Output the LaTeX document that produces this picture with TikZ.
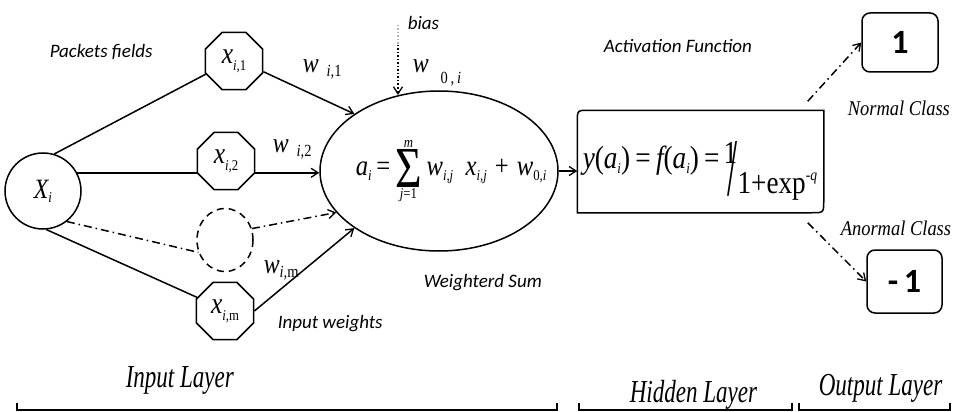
\documentclass[tikz,border=0pt]{standalone}
\usepackage{fontspec}
\setmainfont{Liberation Serif}
\newfontfamily\labf{Carlito}
\newfontfamily\layf[FakeStretch=0.72]{Liberation Serif}
\newfontfamily\clsf[FakeStretch=0.88]{Liberation Serif}
\newfontfamily\eqf[FakeStretch=0.85]{Liberation Serif}
\usetikzlibrary{shapes.geometric,arrows.meta}
\newcommand\fsz[1]{\fontsize{#1}{#1}\selectfont}
\newcommand\sbs[2][5pt]{\raisebox{-#1}{\fsz{15}#2}}
\begin{document}
\begin{tikzpicture}[x=1pt,y=-1pt,line width=1.5pt,
  >={Straight Barb[length=7pt,width=9pt,line width=1.3pt]},
  oct/.style={regular polygon,regular polygon sides=8,draw,minimum size=62pt,inner sep=0pt},
  lbl/.style={anchor=base west,inner sep=0pt,font=\labf\itshape\fsz{19}},
  lay/.style={anchor=base west,inner sep=0pt,font=\layf\itshape\fsz{32}},
  cls/.style={anchor=base west,inner sep=0pt,font=\clsf\itshape\fsz{21}},
  wl/.style={anchor=base west,inner sep=0pt,font=\eqf\itshape\fsz{28}},
  outbox/.style={draw,rounded corners=8pt,inner sep=0pt,font=\labf\bfseries\fsz{34}},
  dashdot/.style={dash pattern=on 8pt off 4pt on 1.5pt off 4pt},
  brk/.style={line width=1.1pt}]
\useasboundingbox (0,0) rectangle (956,412);

% input layer nodes
\node[circle,draw,minimum size=76pt,inner sep=0pt] (Xi) at (43,191) {\eqf\itshape\fsz{28}X\sbs[4pt]{i}};
\node[oct] (x1) at (234,61) {\eqf\itshape\fsz{30}x\sbs[7pt]{i,\upshape 1}};
\node[oct] (x2) at (226,161) {\eqf\itshape\fsz{30}x\sbs[7pt]{i,\upshape 2}};
\node[ellipse,draw,dash pattern=on 7pt off 5pt,minimum width=56pt,minimum height=63pt,inner sep=0pt] (xd) at (225,240) {};
\node[oct] (xm) at (225,311) {\eqf\itshape\fsz{30}x\sbs[7pt]{i,\upshape m}};

% weighted sum
\node[ellipse,draw,minimum width=238pt,minimum height=160pt,inner sep=0pt] (E) at (439,171) {};
\node[anchor=base west,inner sep=0pt] (eqa) at (355,175) {\eqf\fsz{29}\itshape a\sbs{i}\,\upshape=\,$\mathop{\hbox{\raisebox{-12pt}{\scalebox{1.85}[2.0]{\upshape Σ}}}}\limits_{\hbox{\fsz{15}\itshape j\upshape=1}}^{\hbox{\fsz{15}\itshape m}}$\,\itshape w\sbs{i,j}\ \ x\sbs{i,j}\;\upshape+\;\itshape w\sbs{\upshape 0,\itshape i}};

% hidden node
\node[minimum width=245pt,minimum height=101pt,inner sep=0pt] (H) at (700.5,161.5) {};
\draw (H.north east) -- ([xshift=12pt]H.north west) .. controls (H.north west) .. ([yshift=-12pt]H.north west) -- (H.south west) -- ([xshift=-12pt]H.south east) .. controls (H.south east) .. ([yshift=12pt]H.south east) -- cycle;
\node[anchor=base west,inner sep=0pt] (eqh) at (582,168) {\eqf\fsz{32}\itshape y\upshape(\itshape a\sbs{i}\upshape)\,=\,\itshape f\upshape(\itshape a\sbs{i}\upshape)\,=\hspace{8pt}\rlap{\hspace{-4pt}\raisebox{5pt}{1}}\raisebox{-27pt}{\resizebox{10pt}{54pt}{/}}\raisebox{-25pt}{1+exp\raisebox{13pt}{\fsz{16}-\itshape q}}};

% outputs
\node[outbox,minimum width=76pt,minimum height=59pt] (O1) at (900,42.5) {1};
\node[outbox,minimum width=75pt,minimum height=63pt] (O2) at (904.5,281.5) {-\,1};

% connectors
\draw (Xi.73) -- (x1.205);
\draw[->] (x1.-20) -- (E.146);
\draw (Xi.28) -- (Xi.28 -| x2.west);
\draw[->] (x2.east |- Xi.28) -- (E.west |- Xi.28);
\draw[dashdot] (Xi.-52) -- (xd.205);
\draw[->,dashdot] (xd.23) -- (E.202);
\draw (Xi.-85) -- (xm.154);
\draw[->] (xm.east) -- (E.214);
\coordinate (bt) at (398,25);
\coordinate (bm) at (398,45);
\draw[gray!60,dotted] (bt) -- (bm);
\draw[->,dotted] (bm) -- (bt |- E.118);
\draw[->] (E.east) -- (E.east -| H.west);
\draw[->,dashdot] ([shift={(-16,-9)}]H.north east) -- (O1.west);
\draw[->,dashdot] ([shift={(-16,10)}]H.south east) -- (O2.west);

% labels
\node[lbl] (pf) at (49,58) {Packets fields};
\node[wl] (w1) at (302,73) {w\hspace{8pt}\sbs[4pt]{\fsz{17}i,\upshape 1}};
\node[wl] (w2) at (272,152) {w\hspace{8pt}\sbs[4pt]{\fsz{17}i,\upshape 2}};
\node[wl] (wm) at (263,273) {w\sbs[4pt]{\fsz{17}i,\upshape m}};
\node[wl] (w0) at (412,73) {w\hspace{12pt}\sbs[11pt]{\fsz{17}\upshape 0\,,\,\itshape i}};
\node[lbl] (bias) at (407,30) {bias};
\node[lbl] (af) at (603,53) {Activation Function};
\node[lbl] (ws) at (423,287) {Weighterd Sum};
\node[lbl] (iw) at (277,328) {Input weights};
\node[cls] (nc) at (847,115) {Normal Class};
\node[cls] (ac) at (840,235) {Anormal Class};

% layers
\node[lay] (il) at (125,387) {Input Layer};
\node[lay] (hl) at (629,402) {Hidden Layer};
\node[lay] (ol) at (818,395) {Output Layer};
\draw[brk] (17,403) -- (17,410) -- (557,410) -- (557,403);
\draw[brk] (579,403) -- (579,410) -- (792,410) -- (792,403);
\draw[brk] (799,403) -- (799,410) -- (950,410) -- (950,403);
\end{tikzpicture}
\end{document}
